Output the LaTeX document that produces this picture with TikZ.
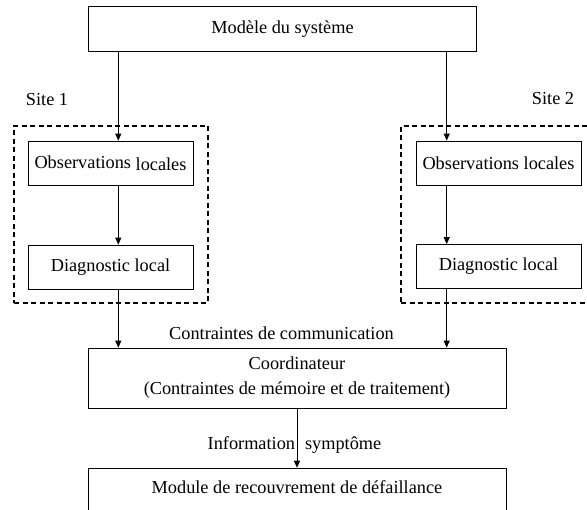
\documentclass[tikz,border=0pt]{standalone}
\usepackage{fontspec}
\setmainfont{Liberation Serif}
\usetikzlibrary{arrows.meta}

\begin{document}
\begin{tikzpicture}[x=1pt,y=-1pt,>={Triangle[length=7pt,width=6pt]},
    bloc/.style={draw,line width=0.8pt,inner sep=0pt,minimum width=165pt,minimum height=44pt},
    large/.style={bloc,minimum width=418pt},
    zone/.style={draw,line width=1.2pt,dash pattern=on 5pt off 3.5pt,inner sep=0pt},
    fleche/.style={->,line width=0.9pt},
    font=\fontsize{18.3}{25}\selectfont]
    \clip (0,0) rectangle (587,510);
    % colonnes des fleches
    \coordinate (col1) at (118.3,0);
    \coordinate (col2) at (446.7,0);
    % sites (cadres pointilles)
    \node[zone,minimum width=194pt,minimum height=177pt] (zone1) at (111,214.5) {};
    \node[zone,minimum width=200pt,minimum height=177pt] (zone2) at (501,214.5) {};
    \node (site1) at (47,100) {Site 1};
    \node (site2) at (553,99) {Site 2};
    % blocs
    \node[bloc,minimum width=388pt,minimum height=45.7pt] (modele) at (282.5,28.9) {Modèle du système};
    \node[bloc] (obs1) at (110.5,163) {Observations \raisebox{-1.5pt}{locales}};
    \node[bloc] (diag1) at (110.5,267) {Diagnostic local};
    \node[bloc] (obs2) at (498.5,163) {Observations locales};
    \node[bloc] (diag2) at (498.5,266.5) {Diagnostic local};
    \node[large,minimum height=60pt,align=center] (coord) at (297,378)
        {Coordinateur\\(Contraintes de mémoire et de traitement)};
    \node[large,anchor=north,inner ysep=5pt,text height=20pt,text depth=40pt] (module) at (297,467.7)
        {Module de recouvrement de défaillance};
    % liaisons
    \draw[fleche] (modele.south -| col1) -- (obs1.north -| col1);
    \draw[fleche] (modele.south -| col2) -- (obs2.north -| col2);
    \draw[fleche] (obs1.south -| col1) -- (diag1.north -| col1);
    \draw[fleche] (obs2.south -| col2) -- (diag2.north -| col2);
    \draw[fleche] (diag1.south -| col1) -- (coord.north -| col1);
    \draw[fleche] (diag2.south -| col2) -- (coord.north -| col2);
    \draw[fleche] (coord.south) -- (module.north);
    \node (contr) at (281.5,333) {Contraintes de communication};
    \node (info) at (294.5,445) {Information\hspace{10pt}symptôme};
\end{tikzpicture}
\end{document}
